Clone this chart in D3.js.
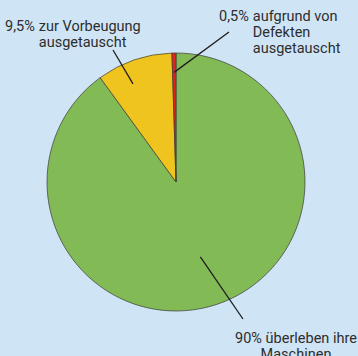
<!DOCTYPE html>
<html>
<head>
<meta charset="utf-8">
<script src="https://cdn.jsdelivr.net/npm/d3@7"></script>
<style>
  html, body { margin: 0; padding: 0; background: #cfe5f6; }
  svg { display: block; }
  text { font-family: "Roboto", "Liberation Sans", sans-serif; fill: #2d2d2d; }
</style>
</head>
<body>
<svg id="chart" width="358" height="356"></svg>
<script>
// Share of machines by outcome (percent)
const categories = ["überleben", "Vorbeugung", "Defekte"];
const shares = [90, 9.5, 0.5];
const colors = ["#82ba56", "#f0c41e", "#e3231d"];
// Label lines: first line holds the percentage, following lines are indented
const labelLead = ["90%", "9,5%", "0,5%"];
const labelLines = [
  ["überleben ihre", "Maschinen"],
  ["zur Vorbeugung", "ausgetauscht"],
  ["aufgrund von", "Defekten", "ausgetauscht"]
];

const W = 358, H = 356;
const cx = 176, cy = 182, R = 129;
const svg = d3.select("#chart");
const g = svg.append("g").attr("transform", `translate(${cx},${cy})`);

const data = categories.map((c, i) => ({ name: c, value: shares[i], color: colors[i], i }));
const pie = d3.pie().value(d => d.value).sort(null);
const arcs = pie(data);
const arc = d3.arc().innerRadius(0).outerRadius(R);

g.selectAll("path.slice")
  .data(arcs)
  .join("path")
  .attr("class", "slice")
  .attr("d", arc)
  .attr("fill", d => d.data.color)
  .attr("stroke", "#3a3a3a")
  .attr("stroke-width", 0.7)
  .attr("stroke-linejoin", "round");

// Label layout: text anchor point, leader-line end near the text, and where
// inside the slice the leader starts (fraction of the slice's sweep, fraction of radius)
const layout = [
  { x: 296, y: 343, align: "middle", lineEnd: [243, 319], along: 0.5, depth: 0.61 },
  { x: 5, y: 31, align: "hang", lineEnd: [113, 50], along: 0.36, depth: 0.83 },
  { x: 219, y: 21, align: "hang", lineEnd: [229, 32], along: 0.45, depth: 0.85 }
];

const lh = 16, gap = 4;
arcs.forEach((a, i) => {
  const L = layout[i];
  const ang = a.startAngle + (a.endAngle - a.startAngle) * L.along;
  const r = R * L.depth;
  const px = cx + r * Math.sin(ang), py = cy - r * Math.cos(ang);
  svg.append("line")
    .attr("x1", px).attr("y1", py)
    .attr("x2", L.lineEnd[0]).attr("y2", L.lineEnd[1])
    .attr("stroke", "#1e1e1e").attr("stroke-width", 1.3);

  const t = svg.append("text").attr("font-size", 14.5);
  if (L.align === "middle") {
    const all = [labelLead[i] + " " + labelLines[i][0]].concat(labelLines[i].slice(1));
    all.forEach((s, k) => {
      t.append("tspan").attr("x", L.x).attr("y", L.y + k * lh)
        .attr("text-anchor", "middle").text(s);
    });
  } else {
    const lead = t.append("tspan").attr("x", L.x).attr("y", L.y).text(labelLead[i]);
    const leadW = lead.node().getComputedTextLength();
    const indent = L.x + leadW + gap;
    t.append("tspan").attr("x", indent).attr("y", L.y).text(labelLines[i][0]);
    labelLines[i].slice(1).forEach((s, k) => {
      t.append("tspan").attr("x", indent).attr("y", L.y + (k + 1) * lh).text(s);
    });
  }
});
</script>
</body>
</html>
